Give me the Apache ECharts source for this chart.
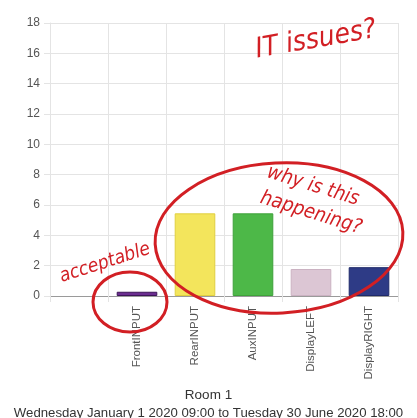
<!DOCTYPE html>
<html>
<head>
<meta charset="utf-8">
<script src="https://cdn.jsdelivr.net/npm/echarts@6/dist/echarts.min.js"></script>
<style>
  html, body { margin: 0; padding: 0; background: #fff; }
  #chart { width: 417px; height: 418px; }
</style>
</head>
<body>
<div id="chart"></div>
<script>
"use strict";

/* ---------- data ---------- */
// first band is empty in the original chart
const categories = ["", "FrontINPUT", "RearINPUT", "AuxINPUT", "DisplayLEFT", "DisplayRIGHT"];
const values = [null, 0.28, 5.45, 5.45, 1.78, 1.9];
const yTicks = { min: 0, max: 18, step: 2 };
const titleText = "Room 1";
const subText = "Wednesday January 1 2020 09:00 to Tuesday 30 June 2020 18:00";

/* ---------- styles ---------- */
const barFill = [null, "#6b2d90", "#f3e55c", "#4db848", "#dcc6d4", "#2e3b86"];
const barLine = [null, "#3c1458", "#e0cf40", "#3ea23a", "#cbb2c2", "#1f2a6a"];
const FONT = '"Liberation Sans", Arial, sans-serif';
const HAND = '"DejaVu Sans Condensed", "DejaVu Sans", sans-serif';
const RED = "#d21f24";
const GRID = "#e4e4e4";

const chart = echarts.init(document.getElementById("chart"), null, { renderer: "canvas" });

// hand-drawn annotations on top of the chart
function note(text, x, y, rot, size) {
    return {
        type: "text", x: x, y: y, rotation: rot, z: 100,
        style: {
            text: text, fill: RED, textAlign: "center", textVerticalAlign: "middle",
            font: `italic ${size}px ${HAND}`
        }
    };
}
function ring(x, y, rx, ry, rot) {
    return {
        type: "ellipse", x: x, y: y, rotation: rot, z: 99,
        shape: { cx: 0, cy: 0, rx: rx, ry: ry },
        style: { fill: null, stroke: RED, lineWidth: 3 }
    };
}

chart.setOption({
    animation: false,
    textStyle: { fontFamily: FONT },
    grid: { left: 50, right: 19, top: 23, bottom: 122, containLabel: false },
    title: [
        { text: titleText, left: "center", top: 383,
          textStyle: { fontSize: 13.5, fontWeight: "normal", color: "#333", fontFamily: FONT } },
        { text: subText, left: "center", top: 402,
          textStyle: { fontSize: 13.2, fontWeight: "normal", color: "#333", fontFamily: FONT } }
    ],
    xAxis: {
        type: "category", data: categories,
        axisLine: { lineStyle: { color: "#9a9a9a" } },
        axisTick: { show: true, length: 6, lineStyle: { color: GRID } },
        splitLine: { show: true, lineStyle: { color: GRID } },
        axisLabel: { rotate: 90, color: "#555", fontSize: 11.5, margin: 10, interval: 0 }
    },
    yAxis: {
        type: "value", min: yTicks.min, max: yTicks.max, interval: yTicks.step,
        axisLine: { show: true, lineStyle: { color: GRID } },
        axisTick: { show: true, length: 6, lineStyle: { color: GRID } },
        splitLine: { lineStyle: { color: GRID } },
        axisLabel: { color: "#555", fontSize: 12, margin: 10 }
    },
    series: [{
        type: "bar", data: values.map((v, i) => ({
            value: v,
            itemStyle: { color: barFill[i], borderColor: barLine[i], borderWidth: 1 }
        })),
        barCategoryGap: "30%"
    }],
    graphic: [
        note("IT issues?", 316, 40, 0.17, 28),
        ring(279, 238, 124, 75, 0.05),
        note("why is this", 313, 186, -0.3, 20),
        note("happening?", 311, 213, -0.3, 20),
        ring(130, 302, 37, 30, 0),
        note("acceptable", 105, 263, 0.31, 19)
    ]
});
</script>
</body>
</html>
